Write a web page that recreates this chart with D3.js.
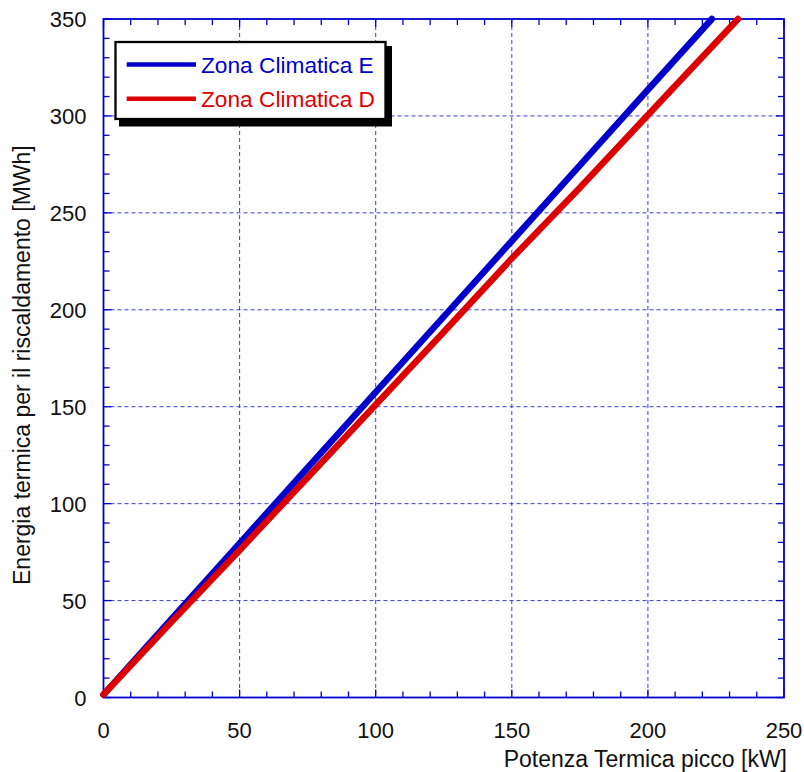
<!DOCTYPE html>
<html><head><meta charset="utf-8">
<script src="https://cdn.jsdelivr.net/npm/d3@7"></script>
<style>body{margin:0;background:#fff}svg{display:block}text{font-family:"Liberation Sans",Arial,sans-serif}</style>
</head><body>
<svg id="c" width="804" height="772"></svg>
<script>
const seriesNames = ["Zona Climatica E", "Zona Climatica D"];
const seriesColors = ["#0000cc", "#dd0000"];
const xE = [0, 25, 50, 75, 100, 125, 150, 175, 200, 223.5];
const yE = [1.5, 40.5, 79.5, 118.5, 157.5, 196.5, 235.5, 274.5, 313.5, 350];
const xD = [0, 25, 50, 75, 100, 125, 150, 175, 200, 233.1];
const yD = [1.5, 39, 76, 113.5, 151, 188.5, 226.5, 263, 300.5, 350];
const xTicks = [0, 50, 100, 150, 200, 250];
const yTicks = [0, 50, 100, 150, 200, 250, 300, 350];
const xLabel = "Potenza Termica picco [kW]";
const yLabel = "Energia termica per il riscaldamento [MWh]";

const svg = d3.select("#c");
const L = 103.5, R = 784, T = 19, B = 697.5;
const x = d3.scaleLinear().domain([0, 250]).range([L, R]);
const y = d3.scaleLinear().domain([0, 350]).range([B, T]);
const axisCol = "#0000cc";

// grid
const g = svg.append("g");
g.selectAll(".gx").data(xTicks.slice(1, -1)).join("line")
  .attr("x1", d => x(d)).attr("x2", d => x(d)).attr("y1", T).attr("y2", B)
  .attr("stroke", "#2828d8").attr("stroke-width", 1).attr("stroke-dasharray", "4,3").attr("opacity", 0.9);
g.selectAll(".gy").data(yTicks.slice(1, -1)).join("line")
  .attr("y1", d => y(d)).attr("y2", d => y(d)).attr("x1", L).attr("x2", R)
  .attr("stroke", "#2828d8").attr("stroke-width", 1).attr("stroke-dasharray", "4,3").attr("opacity", 0.9);

// minor ticks
const minorX = d3.range(0, 251, 10);
const minorY = d3.range(0, 351, 10);
const tk = svg.append("g").attr("stroke", axisCol).attr("stroke-width", 1.3);
minorX.forEach(v => {
  const len = v % 50 === 0 ? 8 : 6;
  tk.append("line").attr("x1", x(v)).attr("x2", x(v)).attr("y1", B).attr("y2", B - len);
  tk.append("line").attr("x1", x(v)).attr("x2", x(v)).attr("y1", T).attr("y2", T + len);
});
minorY.forEach(v => {
  const len = v % 50 === 0 ? 8 : 6;
  tk.append("line").attr("y1", y(v)).attr("y2", y(v)).attr("x1", L).attr("x2", L + len);
  tk.append("line").attr("y1", y(v)).attr("y2", y(v)).attr("x1", R).attr("x2", R - len);
});

// frame
svg.append("rect").attr("x", L).attr("y", T).attr("width", R - L).attr("height", B - T)
  .attr("fill", "none").attr("stroke", axisCol).attr("stroke-width", 1.8);

// tick labels
svg.append("g").selectAll("text").data(xTicks).join("text")
  .attr("x", d => x(d)).attr("y", 737.5).attr("text-anchor", "middle")
  .attr("font-size", 22).attr("fill", "#111").text(d => d);
svg.append("g").selectAll("text").data(yTicks).join("text")
  .attr("x", 86.5).attr("y", d => y(d) + 8).attr("text-anchor", "end")
  .attr("font-size", 22).attr("fill", "#111").text(d => d);

// axis titles
svg.append("text").attr("x", 787).attr("y", 766.5).attr("text-anchor", "end")
  .attr("font-size", 23).attr("fill", "#111").text(xLabel);
svg.append("text").attr("transform", "translate(29.5,585) rotate(-90)").attr("text-anchor", "start")
  .attr("font-size", 23).attr("fill", "#111").text(yLabel);

// lines
const line = d3.line().x(d => x(d[0])).y(d => y(d[1]));
const data = [d3.zip(xE, yE), d3.zip(xD, yD)];
svg.append("g").selectAll("path").data(data).join("path")
  .attr("d", line).attr("fill", "none")
  .attr("stroke", (d, i) => seriesColors[i]).attr("stroke-width", 6.5)
  .attr("stroke-linecap", "round");

// legend
const lg = svg.append("g");
lg.append("rect").attr("x", 119).attr("y", 46).attr("width", 273).attr("height", 80.5).attr("fill", "#000");
lg.append("rect").attr("x", 115.5).attr("y", 42).attr("width", 270).attr("height", 77)
  .attr("fill", "#fff").attr("stroke", "#000").attr("stroke-width", 2.3);
seriesNames.forEach((n, i) => {
  const yy = 64.5 + i * 34.3;
  lg.append("line").attr("x1", 126.7).attr("x2", 196).attr("y1", yy).attr("y2", yy)
    .attr("stroke", seriesColors[i]).attr("stroke-width", 4.5);
  lg.append("text").attr("x", 201).attr("y", yy + 8.3).attr("font-size", 22.7)
    .attr("fill", seriesColors[i]).text(n);
});
</script>
</body></html>
